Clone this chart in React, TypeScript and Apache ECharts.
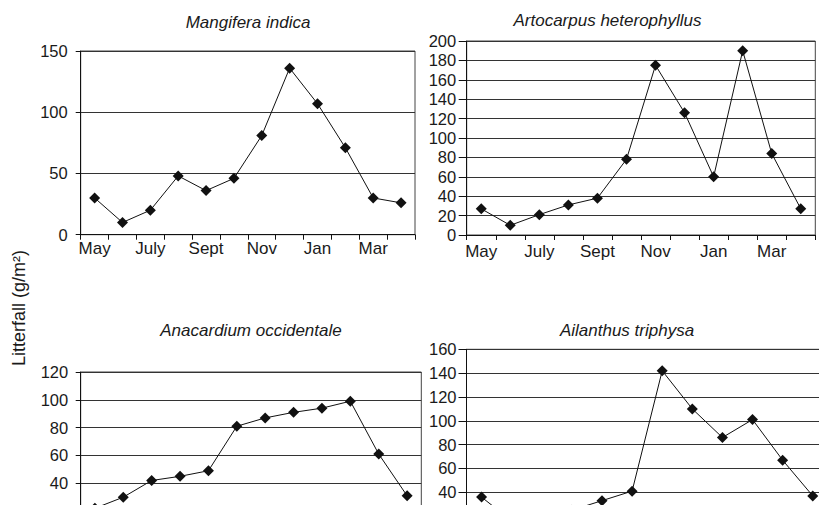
import React, { useEffect, useRef } from "react";
import * as echarts from "echarts";

const months = ["May", "June", "July", "Aug", "Sept", "Oct", "Nov", "Dec", "Jan", "Feb", "Mar", "Apr"];

const species = ["Mangifera indica", "Artocarpus heterophyllus", "Anacardium occidentale", "Ailanthus triphysa"];

const mangifera = [30, 10, 20, 48, 36, 46, 81, 136, 107, 71, 30, 26];
const artocarpus = [27, 10, 21, 31, 38, 78, 175, 126, 60, 190, 84, 27];
const anacardium = [22, 30, 42, 45, 49, 81, 87, 91, 94, 99, 61, 31];
const ailanthus = [36, 16, 14, 25, 33, 41, 142, 110, 86, 101, 67, 37];

const yMax = [150, 200, 120, 160];
const yInterval = [50, 20, 20, 20];

const yAxisName = "Litterfall (g/m²)";

const FONT = "'Liberation Sans', Arial, Helvetica, sans-serif";

export default function App() {
  const ref = useRef<HTMLDivElement>(null);

  useEffect(() => {
    if (!ref.current) return;
    const chart = echarts.init(ref.current, undefined, { renderer: "svg" });

    const seriesData = [mangifera, artocarpus, anacardium, ailanthus];
    const grids = [
      { left: 80.7, top: 51, width: 334.3, height: 183.7 },
      { left: 466.7, top: 41, width: 348.6, height: 194 },
      { left: 80.7, top: 372, width: 340.6, height: 166.9 },
      { left: 466.5, top: 349.3, width: 361.3, height: 190.7 },
    ];
    const titlePos = [
      { x: 248, y: 14 },
      { x: 607.5, y: 11.5 },
      { x: 251, y: 321.5 },
      { x: 627, y: 321.5 },
    ];
    const yTickLen = [5, 8, 5, 8];
    const yMargin = [13, 10.5, 12.5, 10];
    const xMargin = [5, 8, 5, 8];
    // the lower panels run past the bottom edge of the picture
    const cutOff = [false, false, true, true];

    chart.setOption({
      animation: false,
      backgroundColor: "#ffffff",
      title: species.map((s, i) => ({
        text: s,
        left: titlePos[i].x,
        top: titlePos[i].y,
        textAlign: "center",
        padding: 0,
        textStyle: {
          fontFamily: FONT,
          fontStyle: "italic",
          fontWeight: "normal",
          fontSize: 17,
          color: "#1a1a1a",
        },
      })),
      grid: grids.map((g) => ({
        ...g,
        show: true,
        borderColor: "#444",
        borderWidth: 1,
        backgroundColor: "transparent",
        containLabel: false,
        outerBoundsMode: "none",
      })),
      xAxis: grids.map((_, i) => ({
        type: "category",
        gridIndex: i,
        data: months,
        boundaryGap: true,
        axisLine: { show: true, lineStyle: { color: "#111", width: 1 } },
        axisTick: { show: true, interval: 0, length: 5, inside: false, lineStyle: { color: "#111" } },
        axisLabel: {
          show: !cutOff[i],
          interval: 1,
          margin: xMargin[i],
          fontFamily: FONT,
          fontSize: 17,
          color: "#1a1a1a",
        },
        splitLine: { show: false },
      })),
      yAxis: grids.map((_, i) => ({
        type: "value",
        gridIndex: i,
        min: 0,
        max: yMax[i],
        interval: yInterval[i],
        axisLine: { show: true, lineStyle: { color: "#111", width: 1 } },
        axisTick: { show: true, length: yTickLen[i], lineStyle: { color: "#111" } },
        axisLabel: {
          margin: yMargin[i],
          fontFamily: FONT,
          fontSize: 16.5,
          color: "#1a1a1a",
          showMinLabel: !cutOff[i],
          showMaxLabel: true,
        },
        splitLine: { show: true, lineStyle: { color: "#333", width: 1 } },
      })),
      series: seriesData.map((d, i) => ({
        type: "line",
        xAxisIndex: i,
        yAxisIndex: i,
        data: d,
        symbol: "diamond",
        symbolSize: 11,
        showSymbol: true,
        itemStyle: { color: "#111" },
        lineStyle: { color: "#111", width: 1 },
        clip: false,
      })),
      graphic: [
        {
          type: "text",
          x: 19,
          y: 308,
          rotation: Math.PI / 2,
          style: {
            text: yAxisName,
            font: `18px ${FONT}`,
            fill: "#1a1a1a",
            textAlign: "center",
            textVerticalAlign: "middle",
          },
        },
      ],
    });

    return () => chart.dispose();
  }, []);

  return (
    <div
      ref={ref}
      style={{ position: "fixed", left: 0, top: 0, width: 819, height: 620 }}
    />
  );
}
